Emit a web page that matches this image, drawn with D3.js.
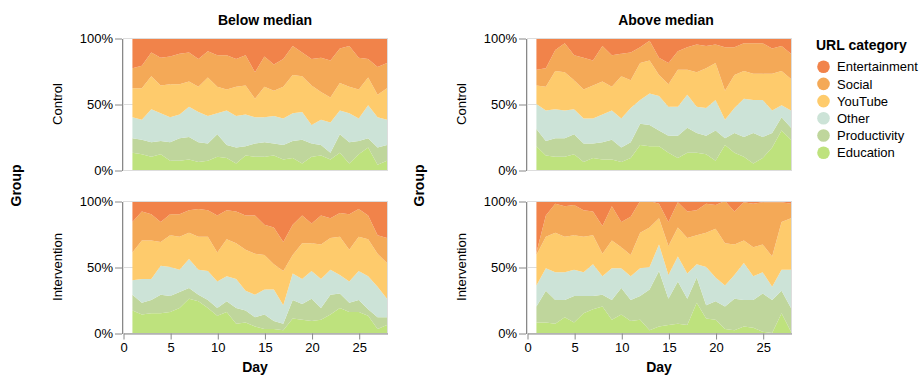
<!DOCTYPE html>
<html><head><meta charset="utf-8">
<script src="https://cdn.jsdelivr.net/npm/d3@7"></script>
<style>
body{margin:0;background:#fff}
svg{display:block}
text{font-family:"Liberation Sans",Arial,Helvetica,sans-serif;fill:#000}
</style>
</head><body>
<svg id="chart" width="921" height="379"></svg>
<script>
// ---------- data ----------
const days = [1,2,3,4,5,6,7,8,9,10,11,12,13,14,15,16,17,18,19,20,21,22,23,24,25,26,27,28];
const categories = ["Education","Productivity","Other","YouTube","Social","Entertainment"]; // stack order (bottom -> top)
const legendOrder = ["Entertainment","Social","YouTube","Other","Productivity","Education"];
const categoryColors = ["#bee27d","#bfd69c","#cce3d7","#fecb6c","#f4a957","#f1834a"];
const columnLabels = ["Below median","Above median"];
const rowLabels = ["Control","Intervention"];
const xTickValues = [0,5,10,15,20,25];
const yTickValues = [0,0.5,1];

// Below median / Control (shares in %)
const bcEducation     = [13,12,10,12,7,7,8,6,7,10,9,5,11,10,10,11,8,9,5,10,11,8,13,5,12,17,4,7];
const bcProductivity  = [11,11,11,10,14,17,17,15,13,17,10,12,7,10,11,9,11,13,18,10,8,5,14,16,10,7,13,12];
const bcOther         = [16,15,25,21,19,18,23,23,21,16,26,24,24,20,19,21,20,21,21,14,19,23,18,22,17,25,23,19];
const bcYouTube       = [22,24,25,21,25,23,19,19,29,20,16,22,22,14,23,19,24,29,27,30,21,19,21,20,22,21,17,24];
const bcSocial        = [15,17,18,21,21,23,22,21,20,24,26,21,23,20,23,20,21,22,18,20,26,28,26,31,24,14,21,19];
const bcEntertainment = [23,21,11,15,14,12,11,16,10,13,13,16,13,26,14,20,16,6,11,16,15,17,8,6,15,16,22,19];

// Below median / Intervention
const biEducation     = [17,14,15,15,16,19,26,24,19,13,16,7,8,5,3,3,2,11,10,9,10,14,19,16,16,13,3,6];
const biProductivity  = [12,9,10,14,12,12,8,5,6,6,8,12,9,7,11,6,5,14,12,17,9,15,11,7,9,5,9,6];
const biOther         = [11,18,16,22,22,17,22,19,22,20,19,22,15,17,19,24,14,20,19,21,22,19,14,16,22,25,23,14];
const biYouTube       = [21,29,29,18,24,25,20,25,26,22,28,27,31,31,26,19,26,14,27,21,26,24,29,24,26,28,25,27];
const biSocial        = [23,22,20,15,16,17,17,21,20,28,22,24,26,29,23,28,22,23,21,15,22,15,18,27,21,18,14,19];
const biEntertainment = [16,8,10,16,10,10,7,6,7,11,7,8,11,11,18,20,31,18,11,17,11,13,9,10,6,11,26,28];

// Above median / Control
const acEducation     = [18,11,10,10,12,6,9,8,8,6,9,19,18,18,13,9,13,13,12,7,19,13,10,5,9,17,30,23];
const acProductivity  = [13,11,14,14,15,14,11,13,15,11,12,16,16,12,13,17,19,15,14,23,5,15,15,23,16,11,10,9];
const acOther         = [19,23,22,21,19,19,19,21,22,22,26,18,24,26,22,22,25,20,21,23,14,19,29,25,28,17,9,13];
const acYouTube       = [14,18,29,29,22,22,25,25,18,32,21,28,25,16,17,28,19,26,30,28,22,25,21,20,20,28,26,24];
const acSocial        = [12,14,16,22,19,24,19,27,24,17,21,12,15,13,16,14,17,21,17,14,33,21,21,23,23,19,19,19];
const acEntertainment = [24,23,9,4,13,15,17,6,13,12,11,7,2,15,19,10,7,5,6,5,7,7,4,4,4,8,6,12];

// Above median / Intervention
const aiEducation     = [8,8,7,12,8,15,18,20,10,14,9,10,2,5,6,7,6,23,11,10,3,2,5,4,1,0,15,1];
const aiProductivity  = [12,24,18,13,20,13,10,9,15,20,16,18,31,42,20,32,20,19,10,14,17,24,20,21,29,25,17,18];
const aiOther         = [16,17,21,21,20,18,24,14,24,15,18,21,17,20,18,19,19,10,29,18,16,18,28,18,16,10,16,29];
const aiYouTube       = [23,24,30,27,26,27,22,17,21,16,16,27,30,20,22,22,27,22,26,37,32,23,17,22,21,23,36,39];
const aiSocial        = [2,16,22,23,23,20,18,21,26,19,29,24,20,11,18,19,20,19,22,18,32,25,29,33,32,41,15,11];
const aiEntertainment = [39,11,2,4,3,7,8,19,4,16,12,0,0,2,16,1,8,7,2,3,0,8,1,2,1,1,1,2];

const panels = [
  {col:0,row:0,series:[bcEducation,bcProductivity,bcOther,bcYouTube,bcSocial,bcEntertainment]},
  {col:0,row:1,series:[biEducation,biProductivity,biOther,biYouTube,biSocial,biEntertainment]},
  {col:1,row:0,series:[acEducation,acProductivity,acOther,acYouTube,acSocial,acEntertainment]},
  {col:1,row:1,series:[aiEducation,aiProductivity,aiOther,aiYouTube,aiSocial,aiEntertainment]}
];

// ---------- layout ----------
const colX = [123, 527];
const rowY = [38, 201];
const W = 264, H = 132;
const titleX = [265, 666];
const rowLabelX = [62, 466];
const groupX = [21, 424];

const svg = d3.select("#chart");
const color = d3.scaleOrdinal(categories, categoryColors);
const x = d3.scaleLinear().domain([0, 28]).range([0, W]);
const y = d3.scaleLinear().domain([0, 1]).range([H, 0]);
const stack = d3.stack().keys(categories).offset(d3.stackOffsetExpand);
const area = d3.area()
  .x(d => x(d.data.day))
  .y0(d => y(d[0]))
  .y1(d => y(d[1]))
  .curve(d3.curveLinear);

panels.forEach(p => {
  const table = days.map((day, i) => {
    const o = {day};
    categories.forEach((c, k) => { o[c] = p.series[k][i]; });
    return o;
  });
  const layers = stack(table);
  const g = svg.append("g").attr("transform", `translate(${colX[p.col]},${rowY[p.row]})`);

  // grid
  g.append("g").selectAll("line.hy").data(yTickValues).join("line")
    .attr("x1", 0).attr("x2", W).attr("y1", d => y(d) + 0.5).attr("y2", d => y(d) + 0.5)
    .attr("stroke", "#ddd");
  g.append("g").selectAll("line.vx").data(xTickValues).join("line")
    .attr("x1", d => x(d) + 0.5).attr("x2", d => x(d) + 0.5).attr("y1", 0).attr("y2", H)
    .attr("stroke", "#ddd");

  // areas
  g.append("g").selectAll("path").data(layers).join("path")
    .attr("d", area)
    .attr("fill", d => color(d.key));

  // view border
  g.append("rect").attr("x", 0.5).attr("y", 0.5).attr("width", W).attr("height", H)
    .attr("fill", "none").attr("stroke", "#ddd");

  // y axis
  const ya = g.append("g").attr("transform", "translate(-1,0.5)")
    .call(d3.axisLeft(y).tickValues(yTickValues).tickFormat(d3.format(".0%")).tickSize(7).tickSizeOuter(0).tickPadding(2));
  ya.select(".domain").attr("stroke", "#888");
  ya.selectAll(".tick line").attr("stroke", "#888");
  ya.selectAll("text").attr("font-size", 13).attr("font-family", null);

  // x axis (bottom row only)
  if (p.row === 1) {
    const xa = g.append("g").attr("transform", `translate(0.5,${H + 0.5})`)
      .call(d3.axisBottom(x).tickValues(xTickValues).tickSize(6).tickSizeOuter(0).tickPadding(3));
    xa.select(".domain").attr("stroke", "#888");
    xa.selectAll(".tick line").attr("stroke", "#888");
    xa.selectAll("text").attr("font-size", 13).attr("font-family", null);
    g.append("text").attr("x", W / 2).attr("y", H + 39)
      .attr("text-anchor", "middle").attr("font-size", 14).attr("font-weight", "bold").text("Day");
  }

  // row label
  svg.append("text")
    .attr("transform", `translate(${rowLabelX[p.col]},${rowY[p.row] + H / 2}) rotate(-90)`)
    .attr("text-anchor", "middle").attr("font-size", 13).text(rowLabels[p.row]);
});

// column titles
columnLabels.forEach((t, i) => {
  svg.append("text").attr("x", titleX[i]).attr("y", 25)
    .attr("text-anchor", "middle").attr("font-size", 14).attr("font-weight", "bold").text(t);
  svg.append("text")
    .attr("transform", `translate(${groupX[i]},${(rowY[0] + rowY[1] + H) / 2}) rotate(-90)`)
    .attr("text-anchor", "middle").attr("font-size", 14).attr("font-weight", "bold").text("Group");
});

// legend
const lg = svg.append("g").attr("transform", "translate(816,0)");
lg.append("text").attr("x", 0).attr("y", 50).attr("font-size", 14).attr("font-weight", "bold").text("URL category");
const items = lg.selectAll("g.item").data(legendOrder).join("g")
  .attr("transform", (d, i) => `translate(0,${66.7 + i * 17.2})`);
items.append("circle").attr("cx", 7.5).attr("cy", 0).attr("r", 6.3).attr("fill", d => color(d));
items.append("text").attr("x", 21).attr("y", 4.6).attr("font-size", 13).text(d => d);
</script>
</body></html>
